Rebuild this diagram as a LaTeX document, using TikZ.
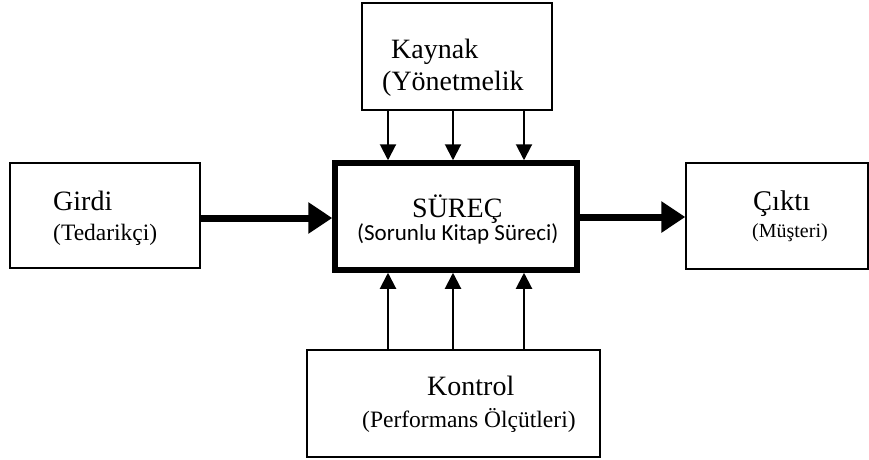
\documentclass[tikz,border=0pt]{standalone}
\usepackage{fontspec}
\setmainfont{Liberation Serif}
\newfontfamily\calibrifont{Carlito}
\usetikzlibrary{arrows.meta, positioning}

\tikzset{
    kutu/.style={draw, line width=1.4pt, rectangle, inner sep=0pt},
    anakutu/.style={draw, line width=5.5pt, rectangle, inner sep=0pt},
    yazi/.style={anchor=base west, inner sep=0pt},
    inceok/.style={line width=2pt, -{Triangle[length=16pt, width=16pt]}},
    kalinok/.style={line width=7pt, -{Triangle[length=24pt, width=30pt]}}
}

\begin{document}
\begin{tikzpicture}[x=1pt, y=-1pt]
                        \useasboundingbox (0, 0) rectangle (869, 459);
                        % kutular
                        \node[kutu, minimum width=190, minimum height=107] (kaynak) at (457, 56.5) {};
                        \node[anakutu, minimum width=242, minimum height=107] (surec) at (456, 216.5) {};
                        \node[kutu, minimum width=190, minimum height=105] (girdi) at (105, 215.5) {};
                        \node[kutu, minimum width=182, minimum height=106] (cikti) at (777, 216) {};
                        \node[kutu, minimum width=293, minimum height=107] (kontrol) at (453.5, 403.5) {};
                        % yazilar
                        \node[yazi] (kaynakt) at (391, 58) {\fontsize{28}{30}\selectfont Kaynak};
                        \node[yazi] (kaynakalt) at (382, 90) {\fontsize{28}{30}\selectfont (Yönetmelik};
                        \node[yazi] (girdit) at (53, 210) {\fontsize{28}{30}\selectfont Girdi};
                        \node[yazi] (girdialt) at (53, 240) {\fontsize{23.5}{26}\selectfont (Tedarikçi)};
                        \node[yazi] (surect) at (412, 217) {\fontsize{28}{30}\selectfont SÜREÇ};
                        \node[yazi] (surecalt) at (357, 240) {\calibrifont\fontsize{23}{26}\selectfont (Sorunlu Kitap Süreci)};
                        \node[yazi] (ciktit) at (753, 210) {\fontsize{28.5}{30}\selectfont Çıktı};
                        \node[yazi] (ciktialt) at (752, 237) {\fontsize{20}{24}\selectfont (Müşteri)};
                        \node[yazi] (kontrolt) at (427, 395) {\fontsize{28}{30}\selectfont Kontrol};
                        \node[yazi] (kontrolalt) at (362, 427) {\fontsize{23.5}{26}\selectfont (Performans Ölçütleri)};
                        % oklar
                        \foreach \x in {388, 453, 524} {
                            \draw[inceok] (\x, 0 |- kaynak.south) -- (\x, 0 |- surec.north);
                            \draw[inceok] (\x, 0 |- kontrol.north) -- (\x, 0 |- surec.south);
                        }
                        \draw[kalinok] (girdi.east |- 0, 218) -- (surec.west |- 0, 218);
                        \draw[kalinok] (surec.east |- 0, 217) -- (cikti.west |- 0, 217);
                    \end{tikzpicture}
\end{document}
